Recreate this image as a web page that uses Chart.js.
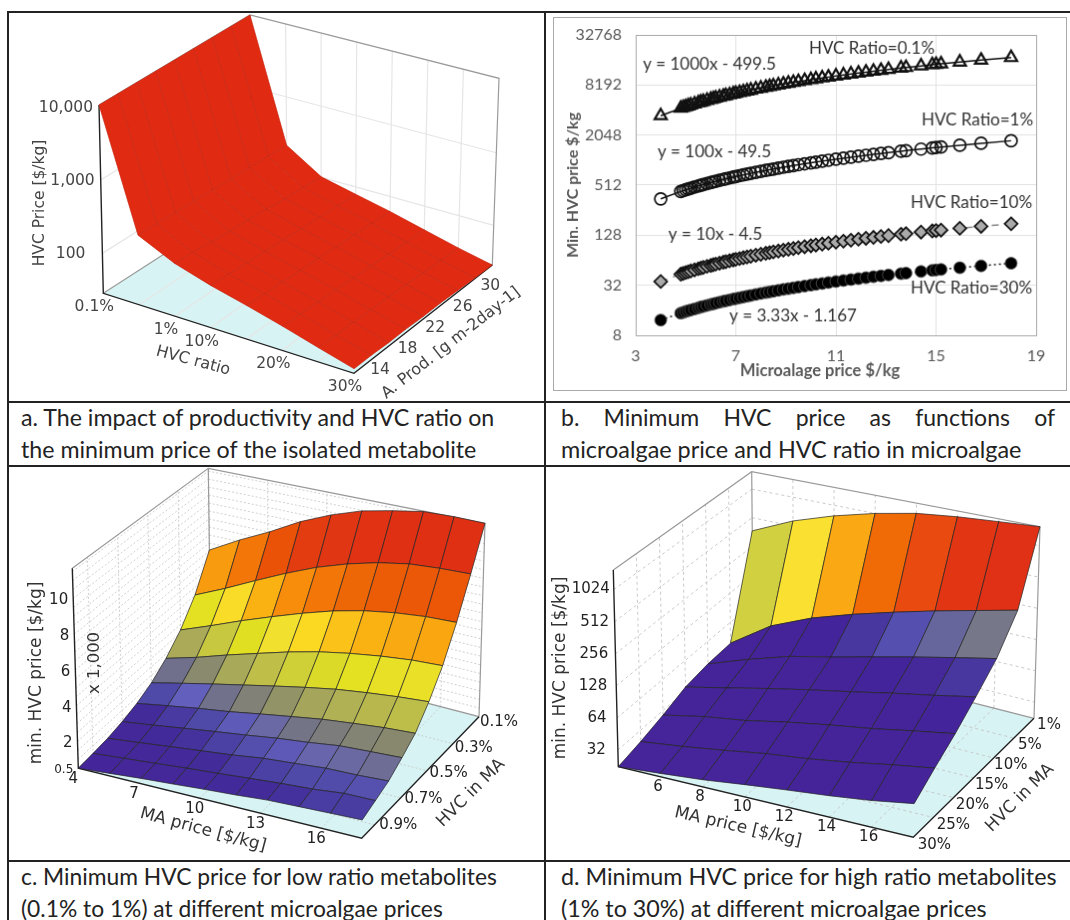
<!DOCTYPE html>
<html>
<head>
<meta charset="utf-8">
<title>HVC price charts</title>
<script src="https://cdn.jsdelivr.net/npm/chart.js@4"></script>
<style>
  html, body { margin: 0; background: #fff; }
  #page { position: relative; width: 1070px; height: 920px; overflow: hidden; }
  canvas { position: absolute; }
  .rule { position: absolute; background: #222; }
  .cap { position: absolute; font: 23px/32px Lato, sans-serif; color: #222; white-space: nowrap; }
  .cap.just { white-space: normal; text-align: justify; text-align-last: justify; }
</style>
</head>
<body>
<div id="page">
  <div class="rule" style="left:7px;top:11px;width:1063px;height:2px"></div>
  <div class="rule" style="left:7px;top:401px;width:1063px;height:2px"></div>
  <div class="rule" style="left:7px;top:465px;width:1063px;height:2px"></div>
  <div class="rule" style="left:7px;top:860px;width:1063px;height:2px"></div>
  <div class="rule" style="left:7px;top:11px;width:2px;height:909px"></div>
  <div class="rule" style="left:544px;top:11px;width:2px;height:909px"></div>

  <canvas id="chartA" width="534" height="387" style="left:10px;top:13px"></canvas>
  <canvas id="chartB" width="514" height="374" style="left:553px;top:17px;border:1px solid #aaa"></canvas>
  <canvas id="chartC" width="534" height="392" style="left:10px;top:467px"></canvas>
  <canvas id="chartD" width="524" height="392" style="left:546px;top:467px"></canvas>

  <div class="cap" style="left:21px;top:401px;font-size:23.2px">a. The impact of productivity and HVC ratio on<br>the minimum price of the isolated metabolite</div>
  <div class="cap just" style="left:561px;top:401px;width:494px">b. Minimum HVC price as functions of</div>
  <div class="cap" style="left:561px;top:433px;font-size:23.4px">microalgae price and HVC ratio in microalgae</div>
  <div class="cap" style="left:21px;top:860px;font-size:22.8px">c. Minimum HVC price for low ratio metabolites<br>(0.1% to 1%) at different microalgae prices</div>
  <div class="cap" style="left:561px;top:860px;font-size:23.3px">d. Minimum HVC price for high ratio metabolites<br>(1% to 30%) at different microalgae prices</div>
</div>

<script>
// ── Data ──────────────────────────────────────────────────
// panel a: rows run from the back of the box (30) to the front (14)
const prodA = [30, 28, 26, 24, 22, 20, 18, 16, 14];
const ratioA = ['0.1%', '0.5%', '1%', '10%', '15%', '20%', '25%', '30%'];
const priceA = [
  [10600, 208, 102, 79, 62, 47, 36, 28.5],
  [10600, 214, 107, 82, 64, 48, 37, 29],
  [10600, 220, 112, 85, 67, 50, 38, 30],
  [10600, 226, 118, 88, 69, 52, 40, 31],
  [10600, 232, 124, 92, 72, 54, 41, 31],
  [10600, 238, 130, 96, 74, 56, 42, 32],
  [10600, 244, 136, 100, 77, 58, 43, 32],
  [10600, 250, 144, 104, 80, 60, 44, 33],
  [10600, 256, 152, 109, 83, 62, 45, 33],
];
const ticksRatioA = ['0.1%', '1%', '10%', '20%', '30%'];
const ticksProdA = [14, 18, 22, 26, 30];
const ticksPriceA = [100, 1000, 10000];

// panel b
const maPrice = [4, 4.8, 4.9, 5, 5.1, 5.2, 5.35, 5.5, 5.6, 5.7, 5.85, 6, 6.1, 6.2, 6.35, 6.5, 6.6, 6.75, 6.9, 7, 7.15, 7.3, 7.45, 7.6, 7.8, 8, 8.2, 8.35, 8.5, 8.7, 8.9, 9.1, 9.3, 9.5, 9.75, 10, 10.2, 10.45, 10.7, 11, 11.3, 11.6, 11.9, 12.2, 12.5, 12.8, 13.1, 13.6, 13.8, 14.4, 14.85, 15, 15.2, 15.95, 16.8, 18];
const ratio01 = [3500, 4300, 4400, 4500, 4600, 4700, 4850, 5000, 5100, 5200, 5350, 5500, 5600, 5700, 5850, 6000, 6100, 6250, 6400, 6500, 6650, 6800, 6950, 7100, 7300, 7500, 7700, 7850, 8000, 8200, 8400, 8600, 8800, 9000, 9250, 9500, 9700, 9950, 10200, 10500, 10800, 11100, 11400, 11700, 12000, 12300, 12600, 13100, 13300, 13900, 14350, 14500, 14700, 15450, 16300, 17500];
const ratio1 = [350, 430, 440, 450, 460, 470, 485, 500, 510, 520, 535, 550, 560, 570, 585, 600, 610, 625, 640, 650, 665, 680, 695, 710, 730, 750, 770, 785, 800, 820, 840, 860, 880, 900, 925, 950, 970, 995, 1020, 1050, 1080, 1110, 1140, 1170, 1200, 1230, 1260, 1310, 1330, 1390, 1435, 1450, 1470, 1545, 1630, 1750];
const ratio10 = [35.5, 43.5, 44.5, 45.5, 46.5, 47.5, 49, 50.5, 51.5, 52.5, 54, 55.5, 56.5, 57.5, 59, 60.5, 61.5, 63, 64.5, 65.5, 67, 68.5, 70, 71.5, 73.5, 75.5, 77.5, 79, 80.5, 82.5, 84.5, 86.5, 88.5, 90.5, 93, 95.5, 97.5, 100, 102.5, 105.5, 108.5, 111.5, 114.5, 117.5, 120.5, 123.5, 126.5, 131.5, 133.5, 139.5, 144, 145.5, 147.5, 155, 163.5, 175.5];
const ratio30 = [12.2, 14.8, 15.1, 15.5, 15.8, 16.1, 16.6, 17.1, 17.5, 17.8, 18.3, 18.8, 19.1, 19.5, 20, 20.5, 20.8, 21.3, 21.8, 22.1, 22.6, 23.1, 23.6, 24.1, 24.8, 25.5, 26.1, 26.6, 27.1, 27.8, 28.5, 29.1, 29.8, 30.5, 31.3, 32.1, 32.8, 33.6, 34.5, 35.5, 36.5, 37.5, 38.5, 39.5, 40.5, 41.5, 42.5, 44.1, 44.8, 46.8, 48.3, 48.8, 49.5, 52, 54.8, 58.8];
const ticksB = [8, 32, 128, 512, 2048, 8192, 32768];

// panel c: rows run from 0.1% (back) to 1% (front), values x 1,000 $/kg
const maC = [4, 5.56, 7.11, 8.67, 10.22, 11.78, 13.33, 14.89, 16.44, 18];
const hvcC = ['0.1%', '0.2%', '0.3%', '0.4%', '0.5%', '0.6%', '0.7%', '0.8%', '0.9%', '1%'];
const priceC = [
  [6.56, 7.61, 8.53, 9.55, 10.34, 10.96, 11.34, 11.65, 11.71, 11.68],
  [4.53, 5.38, 6.28, 7.14, 7.90, 8.50, 8.96, 9.27, 9.39, 9.44],
  [3.17, 3.88, 4.61, 5.28, 5.90, 6.45, 6.86, 7.14, 7.31, 7.37],
  [2.24, 2.75, 3.33, 3.86, 4.37, 4.80, 5.12, 5.37, 5.55, 5.63],
  [1.57, 1.99, 2.39, 2.77, 3.14, 3.49, 3.80, 4.02, 4.20, 4.33],
  [1.14, 1.45, 1.74, 1.99, 2.29, 2.57, 2.84, 3.03, 3.20, 3.30],
  [0.86, 1.10, 1.36, 1.61, 1.84, 2.09, 2.28, 2.51, 2.60, 2.68],
  [0.67, 0.87, 1.08, 1.28, 1.47, 1.71, 1.85, 2.00, 2.04, 2.13],
  [0.58, 0.74, 0.89, 1.05, 1.19, 1.34, 1.48, 1.59, 1.77, 1.79],
  [0.50, 0.65, 0.80, 0.92, 1.05, 1.16, 1.30, 1.36, 1.42, 1.47],
];
const ticksMaC = [4, 7, 10, 13, 16];
const ticksHvcC = ['0.1%', '0.3%', '0.5%', '0.7%', '0.9%'];
const ticksPriceC = [0.5, 2, 4, 6, 8, 10];

// panel d: rows run from 1% (back) to 30% (front), values in $/kg
const maD = [4, 6, 8, 10, 12, 14, 16, 18];
const hvcD = ['1%', '5%', '10%', '15%', '20%', '25%', '30%'];
const priceD = [
  [372, 580, 798, 1024, 1235, 1370, 1468, 1563],
  [39, 74, 111, 150, 194, 245, 302, 369],
  [38, 53, 71, 87, 108, 133, 161, 193],
  [35, 43, 53, 64, 76, 91, 107, 127],
  [29, 35, 40, 48, 56, 64, 75, 87],
  [25, 28, 32, 37, 41, 47, 55, 63],
  [22.3, 24, 26, 29, 32, 35, 39, 45],
];
const ticksMaD = [6, 8, 10, 12, 14, 16];
const ticksPriceD = [32, 64, 128, 256, 512, 1024];

// ── Colour ramps (value, colour) ──────────────────────────
const rampC = [[0.5, '#46249a'], [1.5, '#432b9a'], [2, '#4f4aa8'], [2.4, '#6460bc'], [2.75, '#70708c'], [3.3, '#88886f'],
  [3.9, '#abab58'], [4.6, '#c8c840'], [5.3, '#e2e020'], [6, '#f4e030'], [6.5, '#fcd820'], [7.2, '#faae12'],
  [8, '#f6880a'], [9, '#ee6606'], [9.6, '#ea5008'], [10.4, '#e23a12'], [11.7, '#e03014']];
const rampD = [[0, '#46249a'], [150, '#44249a'], [200, '#483aa0'], [245, '#5550b0'], [302, '#66669c'], [369, '#77778a'],
  [580, '#d0d040'], [798, '#fae030'], [1024, '#faa814'], [1235, '#f06a06'], [1370, '#e84a10'], [1468, '#e23514'], [1563, '#e03016']];

function hexToRgb(h) {
  return [1, 3, 5].map(i => parseInt(h.slice(i, i + 2), 16));
}

function rampColor(ramp, val) {
  if (val <= ramp[0][0]) return ramp[0][1];
  for (let i = 1; i < ramp.length; i++) {
    if (val <= ramp[i][0]) {
      const t = (val - ramp[i - 1][0]) / (ramp[i][0] - ramp[i - 1][0]);
      const a = hexToRgb(ramp[i - 1][1]), b = hexToRgb(ramp[i][1]);
      return `rgb(${a.map((c, k) => Math.round(c + (b[k] - c) * t)).join(',')})`;
    }
  }
  return ramp[ramp.length - 1][1];
}

// ── 3D box helpers ────────────────────────────────────────
// u: left to right, v: front to back, w: floor to top of the box
function mix(a, b, t) { return a + (b - a) * t; }

function project(box, u, v, w) {
  const corner = (fl, fr, br, bl, k) => mix(mix(fl[k], fr[k], u), mix(bl[k], br[k], u), v);
  const at = k => mix(corner(box.fl, box.fr, box.br, box.bl, k), corner(box.tfl, box.tfr, box.tbr, box.tbl, k), w);
  return { x: at(0), y: at(1) };
}

function path(points, opt) {
  return {
    type: 'line',
    data: points,
    borderColor: opt.color || 'transparent',
    borderWidth: opt.width === undefined ? 1 : opt.width,
    borderDash: opt.dash || [],
    backgroundColor: opt.fill || 'transparent',
    fill: opt.fill ? 'shape' : false,
    pointRadius: 0,
    tension: 0,
  };
}

function closed(pts) { return [...pts, pts[0]]; }

// walls, floor and their grid
function boxDatasets(box, grid) {
  const p = (u, v, w) => project(box, u, v, w);
  const out = [];
  out.push(path(closed([p(0, 0, 0), p(1, 0, 0), p(1, 1, 0), p(0, 1, 0)]), { fill: box.floor }));
  const g = { color: grid.color, width: grid.width, dash: grid.dash };
  grid.w.forEach(w => {
    out.push(path([p(0, 1, w), p(1, 1, w)], g));
    out.push(path([p(0, 0, w), p(0, 1, w)], g));
  });
  grid.u.forEach(u => {
    out.push(path([p(u, 1, 0), p(u, 1, 1)], g));
    out.push(path([p(u, 0, 0), p(u, 1, 0)], g));
  });
  grid.v.forEach(v => {
    out.push(path([p(0, v, 0), p(0, v, 1)], g));
    out.push(path([p(0, v, 0), p(1, v, 0)], g));
  });
  const edge = { color: '#9a9a9a', width: 1.2 };
  out.push(path([p(0, 1, 0), p(0, 1, 1)], edge));
  out.push(path([p(0, 0, 1), p(0, 1, 1), p(1, 1, 1), p(1, 1, 0)], edge));
  out.push(path([p(0, 1, 0), p(1, 1, 0)], edge));
  out.push(path([p(0, 0, 0), p(0, 1, 0)], edge));
  const dark = { color: '#222', width: 1.4 };
  out.push(path([p(0, 0, 1), p(0, 0, 0), p(1, 0, 0), p(1, 1, 0)], dark));
  return out;
}

// surface cells, painted from the back row to the front row
function surfaceDatasets(box, us, rows, toW, cellColor, lineColor, lineWidth) {
  const out = [];
  const last = rows.length - 1;
  rows.forEach((row, r) => {
    if (r === last) return;
    row.forEach((val, c) => {
      if (c === row.length - 1) return;
      const v0 = 1 - r / last, v1 = 1 - (r + 1) / last;
      const pts = [
        project(box, us[c], v0, toW(val)),
        project(box, us[c + 1], v0, toW(row[c + 1])),
        project(box, us[c + 1], v1, toW(rows[r + 1][c + 1])),
        project(box, us[c], v1, toW(rows[r + 1][c])),
      ];
      const top = Math.max(val, row[c + 1], rows[r + 1][c], rows[r + 1][c + 1]);
      out.push(path(closed(pts), { fill: cellColor(top), color: lineColor, width: lineWidth }));
    });
  });
  return out;
}

// text drawn in page coordinates
const panelText = {
  id: 'panelText',
  afterDraw(chart, args, opts) {
    const ctx = chart.ctx;
    const cv = chart.canvas;
    (opts.items || []).forEach(t => {
      ctx.save();
      ctx.translate(t.x - cv.offsetLeft, t.y - cv.offsetTop);
      if (t.rot) ctx.rotate(t.rot * Math.PI / 180);
      ctx.font = t.font;
      ctx.fillStyle = t.color || '#222';
      ctx.textAlign = t.align || 'center';
      ctx.textBaseline = 'middle';
      ctx.fillText(t.text, 0, 0);
      ctx.restore();
    });
  },
};

function surfaceChart(id, datasets, items) {
  const cv = document.getElementById(id);
  datasets.forEach((d, i) => { d.order = datasets.length - i; });
  return new Chart(cv, {
    type: 'line',
    data: { datasets },
    plugins: [panelText],
    options: {
      responsive: false,
      animation: false,
      events: [],
      layout: { padding: 0 },
      scales: {
        x: { type: 'linear', display: false, min: cv.offsetLeft, max: cv.offsetLeft + cv.width },
        y: { type: 'linear', display: false, reverse: true, min: cv.offsetTop, max: cv.offsetTop + cv.height },
      },
      plugins: {
        legend: { display: false },
        tooltip: { enabled: false },
        filler: { drawTime: 'beforeDatasetDraw' },
        panelText: { items },
      },
    },
  });
}

const DV = '"DejaVu Sans", sans-serif';

// ── Panel a ───────────────────────────────────────────────
function buildA() {
  const box = {
    fl: [103.3, 293.3], fr: [354, 373.3], br: [492.3, 265], bl: [253, 196.7],
    tfl: [99, 105], tfr: [358.3, 190], tbr: [499, 78.3], tbl: [250, 15],
    floor: '#d8f3f4',
  };
  const toW = z => (Math.log10(z) - 1.455) / 2.57;
  const us = ratioA.map((_, i) => i / (ratioA.length - 1));
  const ds = [
    ...boxDatasets(box, { color: '#e6e6e6', width: 1.2, w: ticksPriceA.slice(0, 2).map(toW), u: us.slice(1, -1), v: [] }),
    ...surfaceDatasets(box, us, priceA, toW, () => '#e02a12', '#c42410', 0.6),
  ];
  const items = [];
  const font = `15.5px ${DV}`, col = '#444';
  ticksPriceA.forEach(t => {
    const p = project(box, 0, 0, toW(t));
    items.push({ text: t.toLocaleString('en-US'), x: p.x - (t === 100 ? 17 : 6), y: p.y + 1, font, color: col, align: 'right' });
  });
  ticksRatioA.forEach(t => {
    const p = project(box, ratioA.indexOf(t) / (ratioA.length - 1), 0, 0);
    items.push({ text: t, x: p.x - 9, y: p.y + 14, font, color: col });
  });
  ticksProdA.forEach(t => {
    const v = (t - 14) / 16;
    const p = project(box, 1, v, 0);
    items.push({ text: String(t), x: p.x + mix(26, -2, v), y: p.y + mix(-3, 21, v), font, color: col });
  });
  items.push({ text: 'HVC Price [$/kg]', x: 40, y: 203, rot: -90, font, color: col });
  items.push({ text: 'HVC ratio', x: 193, y: 361, rot: 15, font: `16px ${DV}`, color: col });
  items.push({ text: 'A. Prod. [g m-2day-1]', x: 451, y: 343, rot: -38, font: `16px ${DV}`, color: col });
  surfaceChart('chartA', ds, items);
}

// ── Panel b ───────────────────────────────────────────────
function buildB() {
  const xy = ys => maPrice.map((x, i) => ({ x, y: ys[i] }));
  const LATO = 'Lato, sans-serif';
  const note = (text, x, y) => ({ text, x, y, font: `17px ${LATO}`, color: '#333' });
  new Chart(document.getElementById('chartB'), {
    type: 'line',
    data: {
      datasets: [
        { label: 'HVC Ratio=0.1%', data: xy(ratio01), borderColor: '#111', borderWidth: 1.5,
          pointStyle: 'triangle', pointRadius: 7, pointBorderWidth: 2.2, pointBorderColor: '#111', pointBackgroundColor: 'transparent', tension: 0 },
        { label: 'HVC Ratio=1%', data: xy(ratio1), borderColor: '#111', borderWidth: 1.5,
          pointStyle: 'circle', pointRadius: 6, pointBorderWidth: 1.7, pointBorderColor: '#111', pointBackgroundColor: 'transparent', tension: 0 },
        { label: 'HVC Ratio=10%', data: xy(ratio10), borderColor: '#888', borderWidth: 1.5, borderDash: [7, 6],
          pointStyle: 'rectRot', pointRadius: 6.5, pointBorderWidth: 1.7, pointBorderColor: '#111', pointBackgroundColor: '#aaa', tension: 0 },
        { label: 'HVC Ratio=30%', data: xy(ratio30), borderColor: '#111', borderWidth: 1.5, borderDash: [2, 3],
          pointStyle: 'circle', pointRadius: 6, pointBorderWidth: 0.8, pointBorderColor: '#555', pointBackgroundColor: '#000', tension: 0 },
      ],
    },
    plugins: [panelText],
    options: {
      responsive: false,
      animation: false,
      events: [],
      layout: { autoPadding: false, padding: { top: 17, right: 30, left: 0, bottom: 0 } },
      scales: {
        x: {
          type: 'linear', min: 3, max: 19,
          afterFit: a => { a.height = 55; a.paddingLeft = 0; a.paddingRight = 0; },
          ticks: { stepSize: 4, color: '#595959', font: { family: LATO, size: 16 }, padding: 11 },
          grid: { drawTicks: false, color: c => (c.tick.value === 19 ? '#aaa' : '#e2e2e2') },
          border: { color: '#aaa' },
        },
        y: {
          type: 'logarithmic', min: 8, max: 32768,
          afterBuildTicks: a => { a.ticks = ticksB.map(value => ({ value })); },
          afterFit: a => { a.width = 82; a.paddingTop = 0; a.paddingBottom = 0; },
          ticks: { color: '#595959', font: { family: LATO, size: 16 }, padding: 14, callback: v => String(v) },
          grid: { drawTicks: false, color: c => (c.tick.value === 32768 ? '#aaa' : '#e2e2e2') },
          border: { color: '#aaa' },
          title: { display: true, text: 'Min. HVC price $/kg', color: '#595959',
            font: { family: LATO, size: 16, weight: 'bold' }, padding: { top: 9, bottom: 0 } },
        },
      },
      plugins: {
        legend: { display: false },
        tooltip: { enabled: false },
        panelText: {
          items: [
            note('HVC Ratio=0.1%', 872, 48),
            note('y = 1000x - 499.5', 709, 64),
            note('HVC Ratio=1%', 978, 120),
            note('y = 100x - 49.5', 714, 152),
            note('HVC Ratio=10%', 972, 203),
            note('y = 10x - 4.5', 715, 235),
            note('HVC Ratio=30%', 972, 289),
            note('y = 3.33x - 1.167', 793, 317),
            { text: 'Microalage price $/kg', x: 820, y: 372, font: `bold 16.5px ${LATO}`, color: '#595959' },
          ],
        },
      },
    },
  });
}

// ── Panel c ───────────────────────────────────────────────
function buildC() {
  const box = {
    fl: [78.3, 768.3], fr: [361.7, 838.3], br: [479, 716.7], bl: [210.7, 646.7],
    tfl: [72.3, 568.3], tfr: [367.7, 626.7], tbr: [485, 523.3], tbl: [208.3, 468.3],
    floor: '#d8f3f4',
  };
  const toW = z => (z - 0.5) / 11.18;
  const toU = m => (m - maC[0]) / (maC[maC.length - 1] - maC[0]);
  const minorW = [];
  for (let z = 0.5; z < 11.7; z += 0.5) minorW.push(toW(z));
  const ds = [
    ...boxDatasets(box, { color: '#c4c4c4', width: 0.8, dash: [2, 2], w: minorW,
      u: ticksMaC.slice(1).map(toU), v: ticksHvcC.map(t => 1 - hvcC.indexOf(t) / (hvcC.length - 1)) }),
    ...surfaceDatasets(box, maC.map(toU), priceC, toW, z => rampColor(rampC, z), '#222', 0.7),
  ];
  const items = [];
  const font = `15px ${DV}`;
  ticksPriceC.forEach(t => {
    const p = project(box, 0, 0, toW(t));
    items.push({ text: String(t), x: p.x - 5, y: p.y + 2, font: t === 0.5 ? `12px ${DV}` : font, align: 'right' });
  });
  ticksMaC.forEach(t => {
    const p = project(box, toU(t), 0, 0);
    items.push({ text: String(t), x: p.x - 5, y: p.y + 11, font });
  });
  ticksHvcC.forEach(t => {
    const v = 1 - hvcC.indexOf(t) / (hvcC.length - 1);
    const p = project(box, 1, v, 0);
    items.push({ text: t, x: p.x + mix(24, 20, v), y: p.y + mix(0, 5, v), font });
  });
  items.push({ text: 'min. HVC price [$/kg]', x: 37, y: 673, rot: -90, font: `17px ${DV}`, color: '#333' });
  items.push({ text: 'x 1,000', x: 95, y: 663, rot: -90, font: `16.5px ${DV}`, color: '#333' });
  items.push({ text: 'MA price [$/kg]', x: 203, y: 830, rot: 15, font: `17px ${DV}`, color: '#333' });
  items.push({ text: 'HVC in MA', x: 471, y: 793, rot: -45, font: `17px ${DV}`, color: '#333' });
  surfaceChart('chartC', ds, items);
}

// ── Panel d ───────────────────────────────────────────────
function buildD() {
  const box = {
    fl: [618.3, 766.7], fr: [913.3, 837.3], br: [1034, 718.3], bl: [753.3, 646.7],
    tfl: [613.3, 570], tfr: [918.3, 633.3], tbr: [1040, 526.7], tbl: [751.7, 471.7],
    floor: '#d8f3f4',
  };
  const toW = z => (Math.log2(z) - 4.48) / 6.13;
  const toU = m => (m - maD[0]) / (maD[maD.length - 1] - maD[0]);
  const ds = [
    ...boxDatasets(box, { color: '#c4c4c4', width: 0.9, dash: [3, 3], w: ticksPriceD.map(toW),
      u: ticksMaD.map(toU), v: hvcD.slice(1, -1).map((_, i) => 1 - (i + 1) / (hvcD.length - 1)) }),
    ...surfaceDatasets(box, maD.map(toU), priceD, toW, z => rampColor(rampD, z), '#222', 0.7),
  ];
  const items = [];
  const font = `15px ${DV}`;
  ticksPriceD.forEach(t => {
    const w = toW(t);
    const p = project(box, 0, 0, w);
    items.push({ text: String(t), x: p.x + mix(-13, -3, w), y: p.y, font, align: 'right' });
  });
  ticksMaD.forEach(t => {
    const p = project(box, toU(t), 0, 0);
    items.push({ text: String(t), x: p.x - 2.5, y: p.y + 10, font });
  });
  hvcD.forEach((t, i) => {
    const v = 1 - i / (hvcD.length - 1);
    const p = project(box, 1, v, 0);
    items.push({ text: t, x: p.x + mix(21, 15, v), y: p.y + mix(8, 7, v), font });
  });
  items.push({ text: 'min. HVC price [$/kg]', x: 561, y: 668, rot: -90, font: `17px ${DV}`, color: '#333' });
  items.push({ text: 'MA price [$/kg]', x: 738, y: 827, rot: 13, font: `17px ${DV}`, color: '#333' });
  items.push({ text: 'HVC in MA', x: 1020, y: 798, rot: -45, font: `17px ${DV}`, color: '#333' });
  surfaceChart('chartD', ds, items);
}

buildA();
buildB();
buildC();
buildD();
</script>
</body>
</html>
